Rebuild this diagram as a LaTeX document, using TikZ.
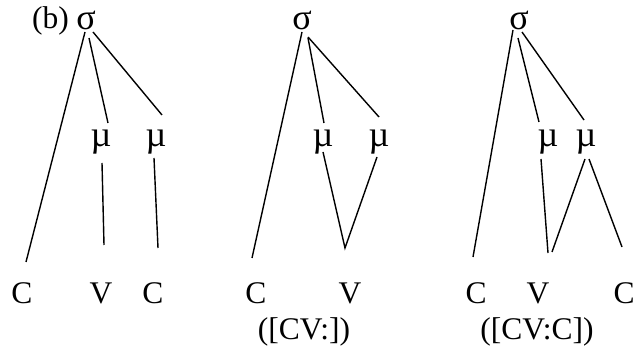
\documentclass[tikz,border=0pt]{standalone}
\usepackage{fontspec}
\setmainfont{Liberation Serif}
\begin{document}
\begin{tikzpicture}[x=1pt,y=-1pt,
  lab/.style={inner sep=0pt,anchor=base,font=\fontsize{31.5}{36}\selectfont},
  gr/.style={lab,font=\fontsize{36}{40}\selectfont},
  edge/.style={line width=1.4pt}]
\useasboundingbox (0,0) rectangle (639,352);
% panel 1
\node[lab,anchor=base east] (b) at (69,29) {(b)};
\node[gr] (s1) at (86,30) {σ};
\node[gr] (m11) at (101,147) {µ};
\node[gr] (m12) at (156,147) {µ};
\node[lab] (c11) at (22,303) {C};
\node[lab] (v1) at (101,303) {V};
\node[lab] (c12) at (153,303) {C};
\coordinate (a1) at (85,32); \coordinate (a2) at (26,262);
\coordinate (a3) at (89,38); \coordinate (a4) at (108,123);
\coordinate (a5) at (93,32); \coordinate (a6) at (162,115);
\coordinate (a7) at (102,163); \coordinate (a8) at (104,245);
\coordinate (a9) at (154,158); \coordinate (a10) at (158,248);
\draw[edge] (a1) -- (a2);
\draw[edge] (a3) -- (a4);
\draw[edge] (a5) -- (a6);
\draw[edge] (a7) -- (a8);
\draw[edge] (a9) -- (a10);
% panel 2
\node[gr] (s2) at (302,30) {σ};
\node[gr] (m21) at (323,147) {µ};
\node[gr] (m22) at (379,147) {µ};
\node[lab] (c21) at (256,303) {C};
\node[lab] (v2) at (350,303) {V};
\node[lab] (t2) at (304,339) {([CV:])};
\coordinate (b1) at (302,32); \coordinate (b2) at (252,258);
\coordinate (b3) at (308,38); \coordinate (b4) at (324,123);
\coordinate (b5) at (308,37); \coordinate (b6) at (379,117);
\coordinate (b7) at (323,152); \coordinate (b8) at (345,248);
\coordinate (b9) at (377,157);
\draw[edge] (b1) -- (b2);
\draw[edge] (b3) -- (b4);
\draw[edge] (b5) -- (b6);
\draw[edge] (b7) -- (b8) -- (b9);
% panel 3
\node[gr] (s3) at (519,30) {σ};
\node[gr] (m31) at (548,147) {µ};
\node[gr] (m32) at (586,147) {µ};
\node[lab] (c31) at (476,303) {C};
\node[lab] (v3) at (538,303) {V};
\node[lab] (c32) at (624,303) {C};
\node[lab] (t3) at (537,339) {([CV:C])};
\coordinate (d1) at (513,30); \coordinate (d2) at (473,257);
\coordinate (d3) at (518,38); \coordinate (d4) at (539,122);
\coordinate (d5) at (522,32); \coordinate (d6) at (584,120);
\coordinate (d7) at (541,159); \coordinate (d8) at (548,253);
\coordinate (d9) at (585,159); \coordinate (d10) at (552,252);
\coordinate (d11) at (589,159); \coordinate (d12) at (622,247);
\draw[edge] (d1) -- (d2);
\draw[edge] (d3) -- (d4);
\draw[edge] (d5) -- (d6);
\draw[edge] (d7) -- (d8);
\draw[edge] (d9) -- (d10);
\draw[edge] (d11) -- (d12);
\end{tikzpicture}
\end{document}
